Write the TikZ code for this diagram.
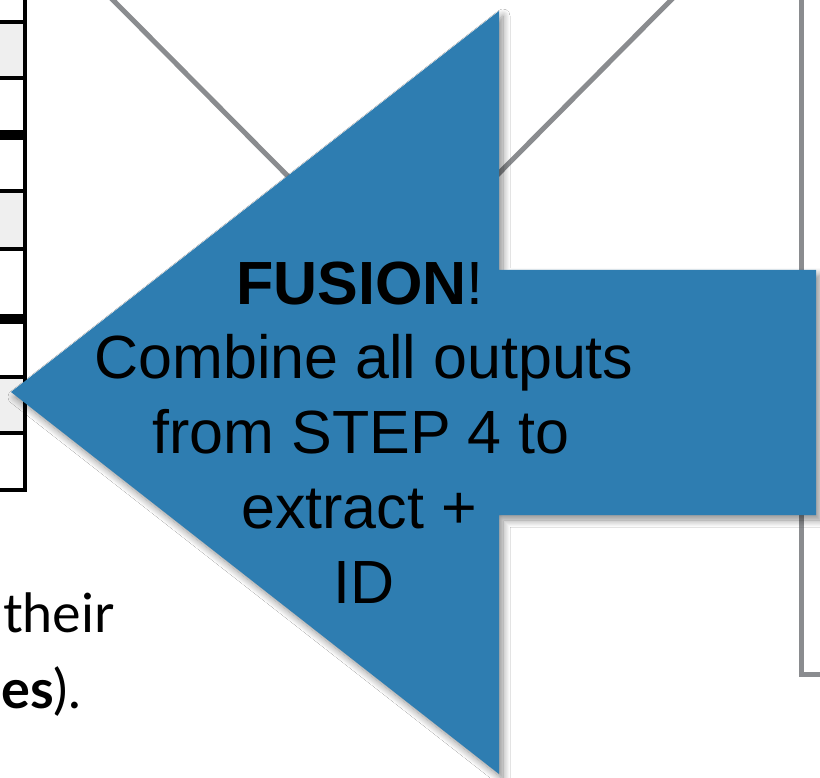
\documentclass[tikz,border=0pt]{standalone}
\usepackage{fontspec}
\setmainfont{Liberation Sans}
\newfontfamily\humanist{Lato}
\usetikzlibrary{shadows.blur}
\definecolor{arrowblue}{RGB}{46,125,177}
\definecolor{linegray}{RGB}{138,140,143}
\definecolor{rowgray}{RGB}{239,239,239}
\tikzset{
  grayline/.style={draw=linegray, line width=5pt},
  thinrule/.style={draw=black, line width=3.5pt},
  thickrule/.style={draw=black, line width=10pt},
  bigarrow/.style={fill=arrowblue, draw=none,
    blur shadow={shadow xshift=4pt, shadow yshift=-5pt, shadow opacity=45, shadow blur steps=10, shadow blur radius=7pt}},
  arrowtext/.style={anchor=base, inner sep=0pt, font=\fontsize{61}{74.5}\selectfont, text=black},
  sidetext/.style={inner sep=0pt, font=\humanist\fontsize{54}{64}\selectfont, text=black}
}
\begin{document}
\begin{tikzpicture}[x=1pt,y=-1pt]
\useasboundingbox (0,0) rectangle (820,778);
\clip (0,0) rectangle (820,778);
\fill[white] (0,0) rectangle (820,778);
% table on the left
\fill[rowgray] (0,22) rectangle (25,78);
\fill[rowgray] (0,191) rectangle (25,249);
\fill[rowgray] (0,377) rectangle (25,433);
\foreach \yy in {22,78,191,249,377,433,490}{\draw[thinrule] (-2,\yy) -- (27,\yy);}
\foreach \yy in {135,319}{\draw[thickrule] (-2,\yy) -- (27,\yy);}
\draw[draw=black, line width=4pt] (25,-2) -- (25,492);
% gray connectors
\coordinate (ltop) at (110,-3);
\coordinate (rtop) at (674,-3);
\coordinate (apex) at (392,281);
\draw[grayline] (ltop) -- (apex);
\draw[grayline] (rtop) -- (apex);
% right box
\coordinate (btop) at (801,-3);
\coordinate (bcorner) at (801,674);
\coordinate (bright) at (825,674);
\draw[grayline] (btop) -- (bcorner) -- (bright);
% big arrow
\path[bigarrow] (11,392) -- (499,11) -- (499,270) -- (816,270) -- (816,515) -- (499,515) -- (499,774) -- cycle;
\node[arrowtext] (fus) at (360,305) {\textbf{FUSION}!};
\node[arrowtext] (l1) at (364,378) {Combine all outputs};
\node[arrowtext] (l2) at (361,453) {from STEP 4 to};
\node[arrowtext] (l3) at (359,528) {extract +};
\node[arrowtext] (l4) at (364,603) {ID};
% text at bottom left
\node[sidetext, anchor=base west] (t1) at (3,632) {their};
\node[sidetext, anchor=base west] (t2) at (1,708) {\textbf{es}).};
\end{tikzpicture}
\end{document}
